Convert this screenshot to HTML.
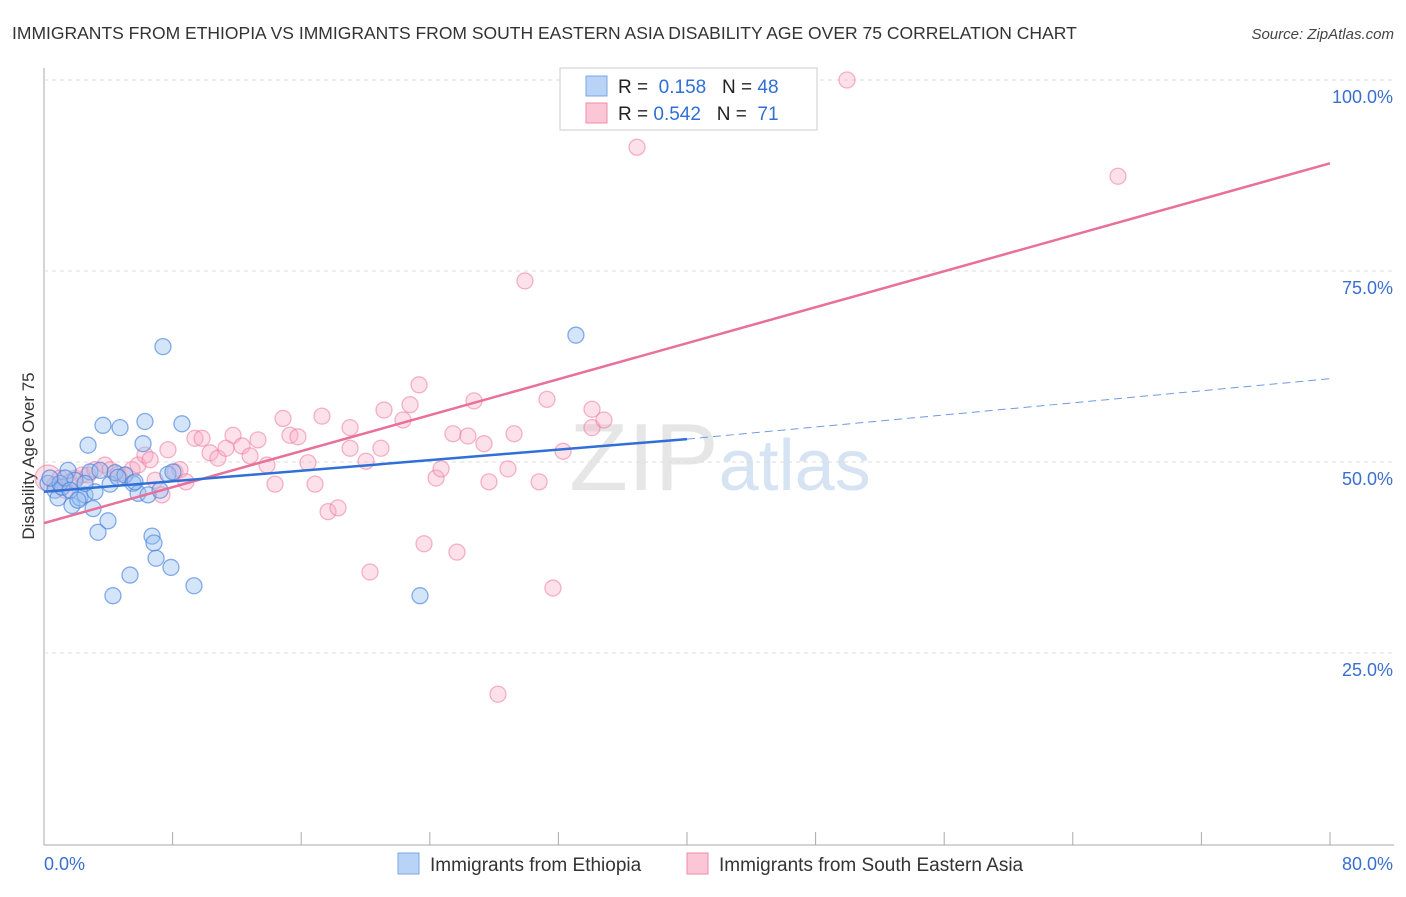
<!DOCTYPE html>
<html><head><meta charset="utf-8"><style>
body{margin:0;background:#fff;font-family:"Liberation Sans",sans-serif}
svg text{font-family:"Liberation Sans",sans-serif}
</style></head><body>
<svg width="1406" height="892" xmlns="http://www.w3.org/2000/svg" id="s">
<text x="12" y="39" font-size="17.5" fill="#333">IMMIGRANTS FROM ETHIOPIA VS IMMIGRANTS FROM SOUTH EASTERN ASIA DISABILITY AGE OVER 75 CORRELATION CHART</text>
<text x="1394" y="39" font-size="15" fill="#444" text-anchor="end" font-style="italic">Source: ZipAtlas.com</text>
<text x="720" y="490" font-size="96" text-anchor="middle" fill="#e6e6e6" font-family="Liberation Serif">ZIP<tspan fill="#d6e3f3" font-family="Liberation Sans" font-size="72">atlas</tspan></text>
<text transform="translate(34,456) rotate(-90)" font-size="17" fill="#333" text-anchor="middle">Disability Age Over 75</text>
<g id="grid"></g><g id="pts"></g><g id="lines"></g>
<g>
<rect x="560" y="68" width="257" height="62" fill="#fff" stroke="#ccc"/>
<rect x="586" y="76" width="21" height="20" fill="#b8d3f5" stroke="#7aa7e6"/>
<rect x="586" y="103" width="21" height="20" fill="#fbc6d6" stroke="#f08bab"/>
<text x="618" y="93" font-size="19" fill="#222">R = <tspan fill="#2f6fd6">&#160;0.158</tspan>&#160;&#160;&#160;N = <tspan fill="#2f6fd6">48</tspan></text>
<text x="618" y="120" font-size="19" fill="#222">R = <tspan fill="#2f6fd6">0.542</tspan>&#160;&#160;&#160;N = <tspan fill="#2f6fd6">&#160;71</tspan></text>
</g>
<g>
<rect x="398" y="853" width="21" height="21" fill="#b8d3f5" stroke="#7aa7e6"/>
<text x="430" y="871" font-size="19" fill="#333">Immigrants from Ethiopia</text>
<rect x="687" y="853" width="21" height="21" fill="#fbc6d6" stroke="#f08bab"/>
<text x="719" y="871" font-size="19" fill="#333">Immigrants from South Eastern Asia</text>
</g>
</svg>
<script>
const yTicks=[25,50,75,100];
const yTickLabels=["25.0%","50.0%","75.0%","100.0%"];
const blueX=[0.25,0.68,0.87,1.12,1.49,1.74,1.93,2.24,2.55,2.74,2.86,3.05,3.17,3.36,3.67,3.98,4.11,4.29,4.42,4.73,5.04,5.35,5.54,5.85,6.16,6.28,6.47,6.72,6.84,6.97,7.22,7.4,7.71,7.9,8.02,8.58,9.33,23.39,33.09,0.99,1.31,0.37,1.62,2.11,2.55,3.48,4.6,5.66];
const blueY=[47.2,46.3,45.3,46.7,48.9,44.3,47.6,45.3,45.7,52.2,48.7,43.9,46.1,40.8,54.8,42.3,47.1,32.5,48.6,54.5,48.3,35.2,47.2,45.9,52.4,55.3,45.7,40.3,39.4,37.4,46.3,65.1,48.4,36.2,48.7,55,33.8,32.5,66.6,47.2,47.9,47.9,46.3,45,47.2,48.9,48,47.4];
const pinkX=[0.25,0.68,0.99,1.31,1.62,1.93,2.36,2.74,3.17,3.79,4.11,4.6,5.04,5.48,5.85,6.28,6.6,6.91,7.34,7.71,8.15,8.46,8.83,9.39,9.83,10.33,10.82,11.32,11.76,12.32,12.82,13.31,13.87,14.37,14.87,15.3,15.8,16.42,16.86,17.29,17.67,18.29,19.04,19.04,20.03,20.28,20.96,21.15,22.33,22.77,23.33,23.64,24.39,24.7,25.44,25.69,26.37,26.75,27.37,27.68,28.24,28.86,29.24,29.92,30.8,31.29,31.66,32.29,33.04,34.09,34.09,34.83,36.89,43.17,49.95,66.81];
const pinkY=[47.9,47,47.9,46.3,47.4,47.9,48.3,48.3,49,49.6,49,48.4,48.3,49,49.6,50.9,50.3,47.6,45.7,51.6,48.7,49,47.4,53.1,53.1,51.2,50.5,51.8,53.5,52.1,50.8,52.9,49.6,47.1,55.7,53.5,53.3,49.9,47.1,56,43.5,44,54.5,51.8,50.1,35.6,51.8,56.8,55.5,57.5,60.1,39.3,47.9,49.1,53.7,38.2,53.4,58,52.4,47.4,19.6,49.1,53.7,73.7,47.4,58.2,33.5,51.4,100,56.9,54.5,55.5,91.2,100,100,87.4];
const blueLine=[[0,46.1],[40,53]], blueDash=[[40,53],[80,60.9]], pinkLine=[[0,42],[80,89.1]];
const X=v=>44+v*16.075, Y=v=>844-v*7.64;
const NS="http://www.w3.org/2000/svg";
function mk(p,t,a){const e=document.createElementNS(NS,t);for(const k in a)e.setAttribute(k,a[k]);p.appendChild(e);return e;}
const g=document.getElementById('grid');
const ax=mk(g,'line',{x1:44,y1:68,x2:44,y2:845,stroke:'#aaa'});

const bx=mk(g,'line',{x1:44,y1:845,x2:1394,y2:845,stroke:'#aaa'});

for(let i=1;i<=10;i++){const t=mk(g,'line',{x1:44+i*128.6,y1:832,x2:44+i*128.6,y2:845,stroke:'#aaa'});
}
yTicks.forEach((v,i)=>{const l=mk(g,'line',{x1:44,y1:Y(v),x2:1394,y2:Y(v),stroke:'#ddd','stroke-dasharray':'4,4'});

const t=mk(g,'text',{x:1393,y:Y(v)+23,'font-size':18,fill:'#3a6fd0','text-anchor':'end'});t.textContent=yTickLabels[i];
});
[[44,'start','0.0%'],[1393,'end','80.0%']].forEach(a=>{const t=mk(g,'text',{x:a[0],y:870,'font-size':18,fill:'#3a6fd0','text-anchor':a[1]});t.textContent=a[2];
});
const pg=document.getElementById('pts');
pinkX.forEach((v,i)=>{const c=mk(pg,'circle',{cx:X(v),cy:Y(pinkY[i]),r:i==0?13:8,fill:'rgba(248,170,196,0.35)',stroke:'rgba(236,120,160,0.55)','stroke-width':1.3});
});
blueX.forEach((v,i)=>{const c=mk(pg,'circle',{cx:X(v),cy:Y(blueY[i]),r:8,fill:'rgba(150,190,240,0.4)',stroke:'rgba(70,130,220,0.65)','stroke-width':1.3});
});
const lg=document.getElementById('lines');
const l1=mk(lg,'line',{x1:X(pinkLine[0][0]),y1:Y(pinkLine[0][1]),x2:X(pinkLine[1][0]),y2:Y(pinkLine[1][1]),stroke:'#e8709a','stroke-width':2.5});

const l2=mk(lg,'line',{x1:X(blueLine[0][0]),y1:Y(blueLine[0][1]),x2:X(blueLine[1][0]),y2:Y(blueLine[1][1]),stroke:'#2f6fd6','stroke-width':2.5});

const l3=mk(lg,'line',{x1:X(blueDash[0][0]),y1:Y(blueDash[0][1]),x2:X(blueDash[1][0]),y2:Y(blueDash[1][1]),stroke:'#6f9be0','stroke-width':1,'stroke-dasharray':'8,5'});

</script>
</body></html>
